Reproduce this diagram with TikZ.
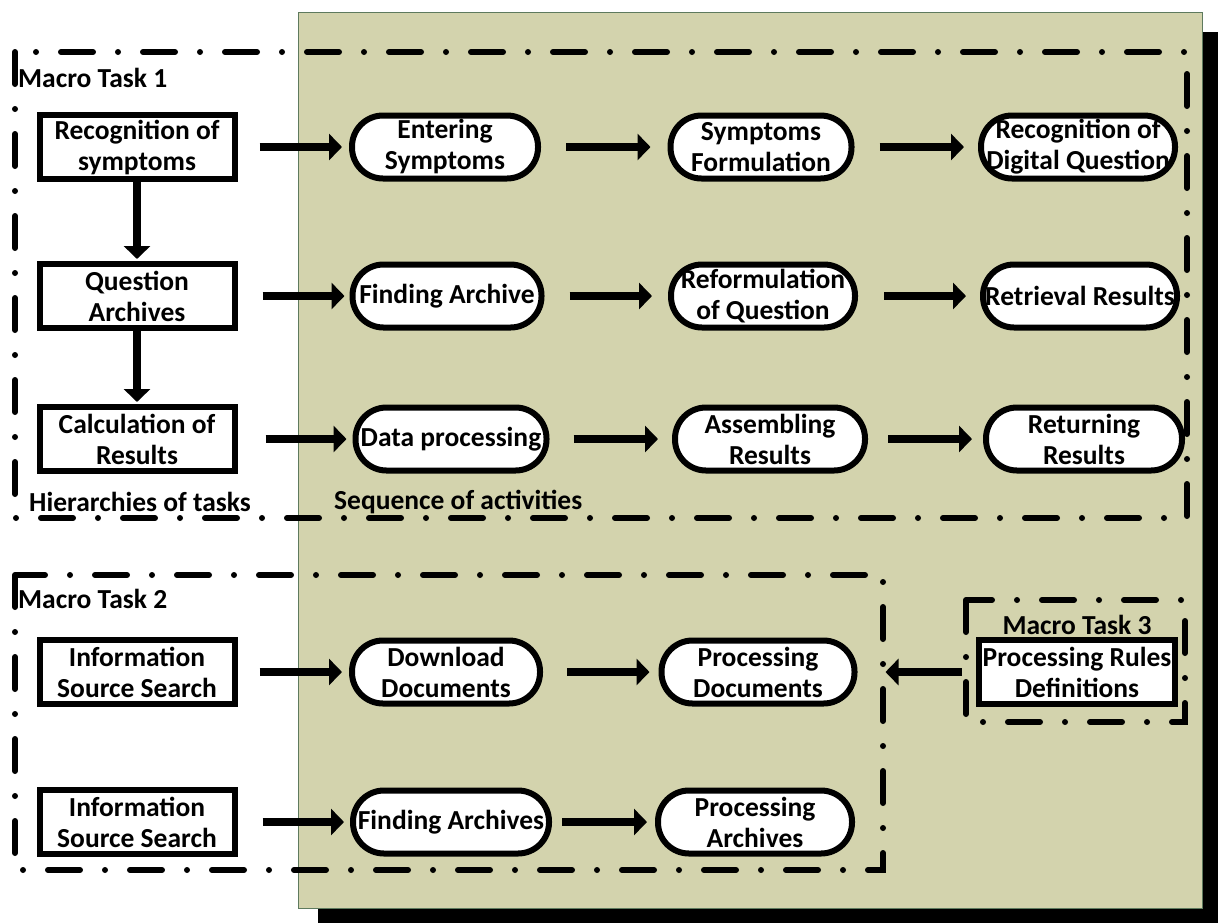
\documentclass[tikz,border=0pt]{standalone}
\usepackage{fontspec}
\setmainfont{Carlito}
\usetikzlibrary{arrows.meta}
\definecolor{panel}{HTML}{D3D3AD}
\definecolor{panelline}{HTML}{5E7A5E}
\begin{document}
\begin{tikzpicture}[x=1pt,y=-1pt,
  every node/.style={font=\fontsize{27.5}{31}\selectfont\bfseries, align=center, inner sep=0pt},
  taskbox/.style={draw, line width=6pt, fill=white, minimum width=195pt, minimum height=64pt},
  actbox/.style={draw, line width=6pt, fill=white, minimum height=63pt, rounded corners=31pt},
  macro/.style={line width=6pt, line cap=round, dash pattern=on 32pt off 25pt on 0pt off 25pt},
  flow/.style={line width=8pt, -{Triangle[length=13pt,width=26pt]}}
]
\useasboundingbox (0,0) rectangle (1218,922);
% panel with shadow
\fill[black] (318,32) rectangle (1230,930);
\filldraw[fill=panel, draw=panelline, line width=1pt] (298,12) rectangle (1202,908);

% macro task frames
\draw[macro] (15,52) rectangle (1187,518);
\draw[macro] (15,575) rectangle (883,870);
\draw[macro] (966,600) rectangle (1185,722);

\node[anchor=west] (mt1) at (18,78) {Macro Task 1};
\node[anchor=west] (mt2) at (18,599) {Macro Task 2};
\node (mt3) at (1077,625) {Macro Task 3};
\node[anchor=west] (hier) at (29,502) {Hierarchies of tasks};
\node[anchor=west] (seq) at (334,502) {Sequence of activities};

% left column
\node[taskbox] (r1) at (137,147) {Recognition of\\symptoms};
\node[taskbox] (r2) at (137,296) {Question\\Archives};
\node[taskbox] (r3) at (137,439) {Calculation of\\Results};
\node[taskbox] (s1) at (137,672) {Information\\Source Search};
\node[taskbox] (s2) at (137,822) {Information\\Source Search};

% row 1
\node[actbox, minimum width=186pt] (a11) at (445,147) {Entering\\Symptoms};
\node[actbox, minimum width=181pt] (a12) at (761,147) {Symptoms\\Formulation};
\node[actbox, minimum width=194pt] (a13) at (1078,147) {Recognition of\\Digital Question};
% row 2
\node[actbox, minimum width=189pt] (a21) at (447,296) {Finding Archive};
\node[actbox, minimum width=184pt] (a22) at (763,296) {Reformulation\\of Question};
\node[actbox, minimum width=194pt] (a23) at (1080,296) {Retrieval Results};
% row 3
\node[actbox, minimum width=191pt] (a31) at (451,439) {Data processing};
\node[actbox, minimum width=190pt] (a32) at (770,439) {Assembling\\Results};
\node[actbox, minimum width=196pt] (a33) at (1084,439) {Returning\\Results};
% macro task 2
\node[actbox, minimum width=188pt] (b11) at (446,672) {Download\\Documents};
\node[actbox, minimum width=193pt] (b12) at (758,672) {Processing\\Documents};
\node[actbox, minimum width=196pt] (b21) at (451,822) {Finding Archives};
\node[actbox, minimum width=194pt] (b22) at (755,822) {Processing\\Archives};
% macro task 3
\node[taskbox, minimum width=196pt] (pr) at (1077,672) {Processing Rules\\Definitions};

% connectors
\draw[flow, shorten <=22pt, shorten >=7pt] (r1.east) -- (a11.west);
\draw[flow, shorten <=25pt, shorten >=17pt] (a11.east) -- (a12.west);
\draw[flow, shorten <=25pt, shorten >=14pt] (a12.east) -- (a13.west);
\draw[flow, shorten <=25pt, shorten >=5pt] (r2.east) -- (a21.west);
\draw[flow, shorten <=25pt, shorten >=16pt] (a21.east) -- (a22.west);
\draw[flow, shorten <=26pt, shorten >=14pt] (a22.east) -- (a23.west);
\draw[flow, shorten <=28pt, shorten >=6pt] (r3.east) -- (a31.west);
\draw[flow, shorten <=24pt, shorten >=14pt] (a31.east) -- (a32.west);
\draw[flow, shorten <=20pt, shorten >=11pt] (a32.east) -- (a33.west);
\draw[flow, shorten <=22pt, shorten >=7pt] (s1.east) -- (b11.west);
\draw[flow, shorten <=24pt, shorten >=9pt] (b11.east) -- (b12.west);
\draw[flow, shorten <=25pt, shorten >=6pt] (s2.east) -- (b21.west);
\draw[flow, shorten <=10pt, shorten >=8pt] (b21.east) -- (b22.west);
\draw[flow, shorten <=14pt, shorten >=28pt] (pr.west) -- (b12.east);
\draw[flow, shorten >=2pt] (r1.south) -- (r2.north);
\draw[flow, shorten >=2pt] (r2.south) -- (r3.north);
\end{tikzpicture}
\end{document}
